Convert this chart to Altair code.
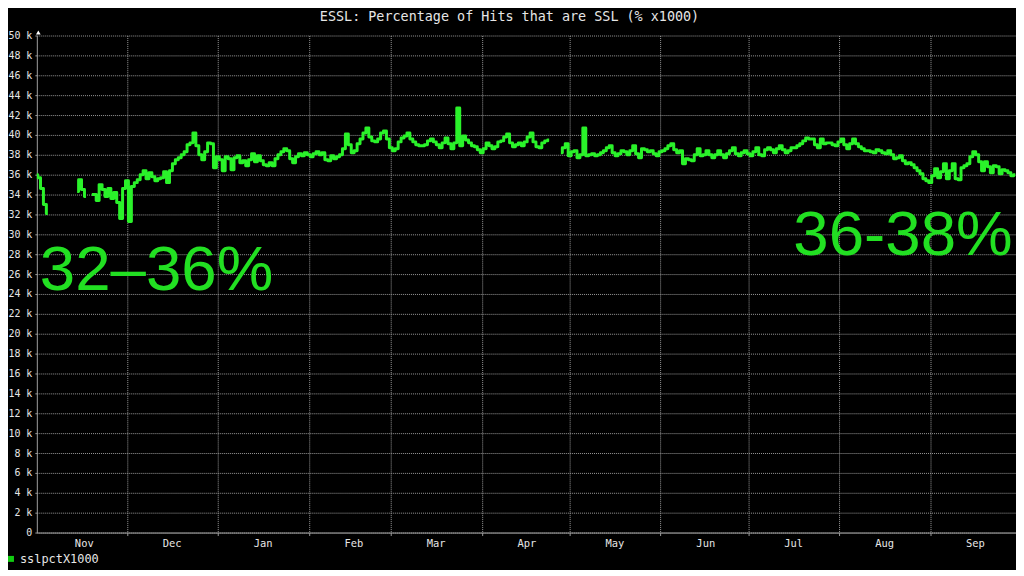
import altair as alt
import pandas as pd

TITLE = "ESSL: Percentage of Hits that are SSL (% x1000)"
SERIES = "sslpctX1000"
NOTE_LEFT = "32–36%"
NOTE_RIGHT = "36-38%"

FIRST_DAY = "2013-10-31"
MONTH_STARTS = [(2013, 11), (2013, 12), (2014, 1), (2014, 2), (2014, 3), (2014, 4),
                (2014, 5), (2014, 6), (2014, 7), (2014, 8), (2014, 9)]
Y_TICKS = list(range(0, 50001, 2000))

# daily sslpct x1000 values, in thousands (None = no data)
VALUES_K = [
    36.0, 35.7, 34.6, 33.0, 32.1, None, None, None, None, None,
    None, None, None, None, 34.3, 35.5, 34.5, 33.8, None, 34.0,
    34.0, 33.4, 35.0, 34.5, 33.8, 34.6, 33.6, 34.2, 33.2, 31.6,
    34.6, 35.4, 31.3, 34.8, 35.2, 35.5, 36.0, 36.4, 35.6, 36.2,
    35.8, 35.4, 35.6, 35.7, 36.3, 35.2, 36.4, 37.1, 37.5, 37.7,
    38.0, 38.3, 39.0, 39.2, 40.2, 38.9, 38.0, 37.5, 38.3, 39.2,
    39.1, 36.7, 37.8, 37.5, 36.4, 37.8, 37.6, 36.5, 37.7, 37.9,
    37.2, 37.4, 36.9, 37.5, 38.1, 37.3, 37.9, 37.4, 37.0, 36.9,
    37.2, 36.9, 37.6, 38.0, 38.3, 38.6, 38.4, 37.6, 37.2, 37.8,
    38.1, 37.9, 38.2, 38.0, 37.8, 38.1, 38.3, 38.0, 38.2, 37.5,
    37.4, 37.9, 37.6, 37.8, 38.0, 38.6, 40.1, 39.0, 38.2, 38.4,
    39.1, 39.6, 40.2, 40.7, 39.8, 39.4, 39.3, 39.6, 40.2, 40.4,
    39.6, 38.7, 38.4, 38.6, 39.3, 39.7, 39.9, 40.2, 39.6, 39.3,
    39.0, 38.9, 38.9, 39.0, 39.4, 39.6, 39.3, 39.0, 38.7, 39.2,
    39.7, 39.1, 38.6, 39.2, 42.7, 38.9, 39.9, 39.5, 39.2, 38.9,
    38.8, 38.5, 38.2, 38.6, 39.2, 38.9, 38.6, 38.8, 39.3, 39.4,
    39.8, 40.1, 39.2, 38.8, 39.0, 39.2, 38.9, 39.3, 39.8, 40.2,
    39.3, 38.8, 38.7, 39.2, 39.4, 39.5, None, None, None, 38.2,
    38.7, 39.1, 37.9, 38.3, 38.4, 37.7, 38.0, 40.7, 37.9, 38.0,
    38.1, 37.9, 38.0, 38.2, 38.4, 38.7, 38.9, 38.2, 37.9, 38.1,
    38.4, 38.3, 38.0, 38.4, 38.9, 38.1, 37.7, 38.6, 38.5, 38.3,
    38.4, 38.1, 37.9, 38.3, 38.4, 38.6, 38.9, 39.1, 38.5, 38.2,
    38.4, 37.1, 37.6, 37.5, 37.4, 38.0, 38.6, 37.9, 38.0, 38.4,
    38.0, 37.7, 38.0, 38.4, 38.0, 37.7, 38.1, 38.4, 38.7, 38.1,
    37.9, 38.2, 38.4, 38.1, 37.9, 38.3, 38.7, 38.0, 37.9, 38.5,
    38.7, 38.5, 38.2, 38.6, 38.9, 38.5, 38.2, 38.4, 38.7, 38.7,
    38.9, 39.1, 39.4, 39.7, 39.6, 39.6, 39.0, 38.7, 39.6, 39.1,
    39.2, 39.2, 39.0, 38.9, 39.3, 39.6, 39.0, 38.6, 39.1, 39.6,
    39.1, 38.8, 38.6, 38.4, 38.4, 38.3, 38.2, 38.5, 38.4, 38.2,
    38.1, 38.4, 38.0, 37.6, 37.7, 37.9, 37.4, 37.1, 37.2, 37.0,
    36.7, 36.4, 36.1, 35.6, 35.4, 35.2, 35.9, 36.6, 35.7, 36.3,
    37.1, 35.6, 36.4, 37.1, 35.6, 35.5, 36.7, 36.9, 37.1, 37.8,
    38.3, 38.0, 37.3, 36.4, 37.3, 36.8, 36.2, 36.9, 36.8, 36.1,
    36.5, 36.4, 36.2, 35.9, 36.0,
]

GREEN = "#2af22a"
NOTE_GREEN = "#22e022"
GRID = "#9a9a9a"
AXIS = "#a0a0a0"
LABEL = "#e6e6e6"
MONO = "DejaVu Sans Mono"

# build table
dates = pd.date_range(FIRST_DAY, periods=len(VALUES_K), freq="D")
rows = []
seg = 0
for d, v in zip(dates, VALUES_K):
    if v is None:
        seg += 1
        continue
    rows.append({"date": d.strftime("%Y-%m-%d"), "value": round(v * 1000),
                 "seg": seg, "series": SERIES})
df = pd.DataFrame(rows)

x_scale = alt.Scale(
    type="utc",
    domain=[alt.DateTime(year=2013, month=10, date=31, hours=6, utc=True),
            alt.DateTime(year=2014, month=9, date=30, hours=6, utc=True)],
)
x_axis = alt.Axis(
    values=[alt.DateTime(year=y, month=m, date=1, utc=True) for y, m in MONTH_STARTS],
    labelExpr="utcFormat(datum.value, '%b')",
    labelOffset=45, labelFlush=False, labelOverlap=False, labelBound=False,
    labelFont=MONO, labelFontSize=10.5, labelColor=LABEL, labelPadding=3,
    grid=True, gridColor=GRID, gridDash=[1, 1], gridWidth=1,
    gridOpacity={"condition": {"test": "utcmonth(datum.value) == 10", "value": 0}, "value": 1},
    tickOpacity={"condition": {"test": "utcmonth(datum.value) == 10", "value": 0}, "value": 1},
    tickColor=GRID, tickSize=3, domainColor=AXIS, title=None,
)
y_axis = alt.Axis(
    values=Y_TICKS,
    labelExpr="datum.value == 0 ? '0\u00a0\u00a0' : format(datum.value / 1000, 'd') + ' k'",
    labelFont=MONO, labelFontSize=10, labelColor=LABEL, labelPadding=3,
    labelOverlap=False, labelBound=False, labelFlush=False,
    grid=True, gridColor=GRID, gridDash=[1, 1], gridWidth=1,
    tickColor=GRID, tickSize=2, domainColor=AXIS, title=None,
)

line = alt.Chart(df).mark_line(
    strokeWidth=3, clip=True, color=GREEN, interpolate="step", strokeJoin="round"
).encode(
    x=alt.X("date:T", scale=x_scale, axis=x_axis),
    y=alt.Y("value:Q", scale=alt.Scale(domain=[0, 50000], nice=False, zero=True), axis=y_axis),
    detail="seg:N",
)

arrow = alt.Chart(pd.DataFrame({"k": [1]})).mark_point(
    shape="triangle-up", filled=True, color="#ffffff", size=22, opacity=1
).encode(x=alt.value(1.5), y=alt.value(-3))

title = alt.Chart(pd.DataFrame({"t": [TITLE]})).mark_text(
    font=MONO, fontSize=13.5, color=LABEL, align="center", baseline="alphabetic"
).encode(x=alt.value(475.5), y=alt.value(-15), text="t:N")

notes = alt.Chart(pd.DataFrame({"t": [NOTE_LEFT, NOTE_RIGHT],
                                "px": [3, 761], "py": [256, 221]})).mark_text(
    font="Liberation Sans", fontSize=64, color=NOTE_GREEN, align="left", baseline="alphabetic"
).encode(x=alt.X("px:Q", scale=None), y=alt.Y("py:Q", scale=None), text="t:N")

legend_sq = alt.Chart(pd.DataFrame({"t": [SERIES]})).mark_square(
    filled=True, color="#11cc11", size=36, opacity=1
).encode(x=alt.value(-26), y=alt.value(526.5))

legend_tx = alt.Chart(pd.DataFrame({"t": [SERIES]})).mark_text(
    font=MONO, fontSize=12, color=LABEL, align="left", baseline="middle"
).encode(x=alt.value(-17), y=alt.value(527), text="t:N")

chart = alt.layer(line, arrow, title, notes, legend_sq, legend_tx).properties(
    width=985, height=500,
    autosize=alt.AutoSizeParams(type="none"),
    padding={"left": 29, "top": 26, "right": 0, "bottom": 36},
    background="#000000",
).configure_view(strokeWidth=0)

chart.save("out.html", embed_options={"renderer": "svg", "actions": False})
